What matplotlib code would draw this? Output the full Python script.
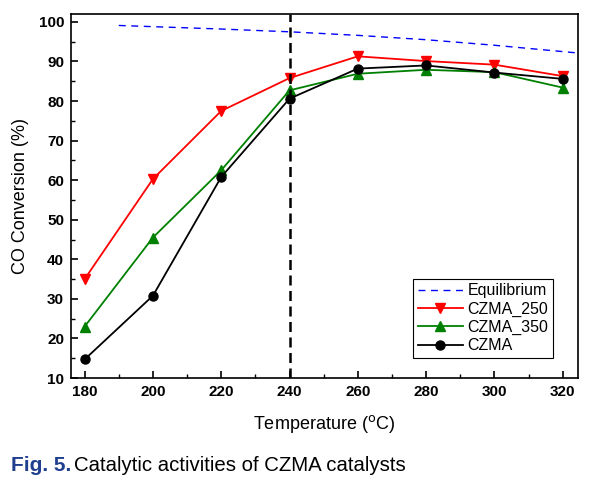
import matplotlib
matplotlib.use('Agg')
import matplotlib.pyplot as plt
from matplotlib.ticker import MultipleLocator

plt.rcParams['font.family'] = ['Liberation Sans', 'DejaVu Sans']

temp = [180, 200, 220, 240, 260, 280, 300, 320]
czma_250 = [35.0, 60.3, 77.5, 85.8, 91.3, 90.1, 89.2, 86.3]
czma_350 = [23.0, 45.5, 62.5, 82.7, 86.9, 87.9, 87.3, 83.4]
czma = [14.7, 30.8, 60.8, 80.6, 88.2, 89.0, 87.2, 85.6]

eq_temp = [190, 200, 220, 240, 260, 280, 300, 320, 325]
eq_conv = [99.1, 98.8, 98.2, 97.5, 96.6, 95.5, 94.1, 92.5, 92.1]

fig = plt.figure(figsize=(5.98, 4.86), dpi=100)
ax = fig.add_axes([0.1187, 0.2222, 0.8479, 0.749])

ax.plot(eq_temp, eq_conv, '--', color='blue', lw=1.0, dashes=(5, 4), label='Equilibrium')
ax.plot(temp, czma_250, '-', color='red', lw=1.3, marker='v', ms=7.5, label='CZMA_250')
ax.plot(temp, czma_350, '-', color='green', lw=1.3, marker='^', ms=7.5, label='CZMA_350')
ax.plot(temp, czma, '-', color='black', lw=1.3, marker='o', ms=6.5, label='CZMA')
ax.axvline(240, color='black', lw=1.8, ls=(0, (4, 2.2)))

ax.set_xlim(176, 324.5)
ax.set_ylim(10, 102)
ax.xaxis.set_major_locator(MultipleLocator(20))
ax.xaxis.set_minor_locator(MultipleLocator(10))
ax.yaxis.set_major_locator(MultipleLocator(10))
ax.yaxis.set_minor_locator(MultipleLocator(5))
ax.tick_params(which='both', direction='in', top=False, right=False)
ax.tick_params(which='major', length=5, width=1.2, labelsize=11, pad=5)
ax.tick_params(which='minor', length=3, width=1.0)
for lab in ax.get_xticklabels() + ax.get_yticklabels():
    lab.set_fontweight('bold')
for s in ax.spines.values():
    s.set_linewidth(1.2)

ax.set_xlabel('Temperature ($^{\\mathrm{o}}$C)', fontsize=13, labelpad=10)
ax.set_ylabel('CO Conversion (%)', fontsize=13, labelpad=7)

leg = ax.legend(loc='lower right', bbox_to_anchor=(0.951, 0.055), borderaxespad=0,
                fontsize=11.5, fancybox=False, edgecolor='black', framealpha=1,
                handlelength=2.8, borderpad=0.3, labelspacing=0.2, handletextpad=0.3)
leg.get_frame().set_linewidth(0.8)

fig.text(0.018, 0.03, 'Fig. 5.', color='#1f3f8f', fontweight='bold', fontsize=15)
fig.text(0.124, 0.03, 'Catalytic activities of CZMA catalysts', color='black', fontsize=14.7)

fig.savefig('out.png', dpi=100)
